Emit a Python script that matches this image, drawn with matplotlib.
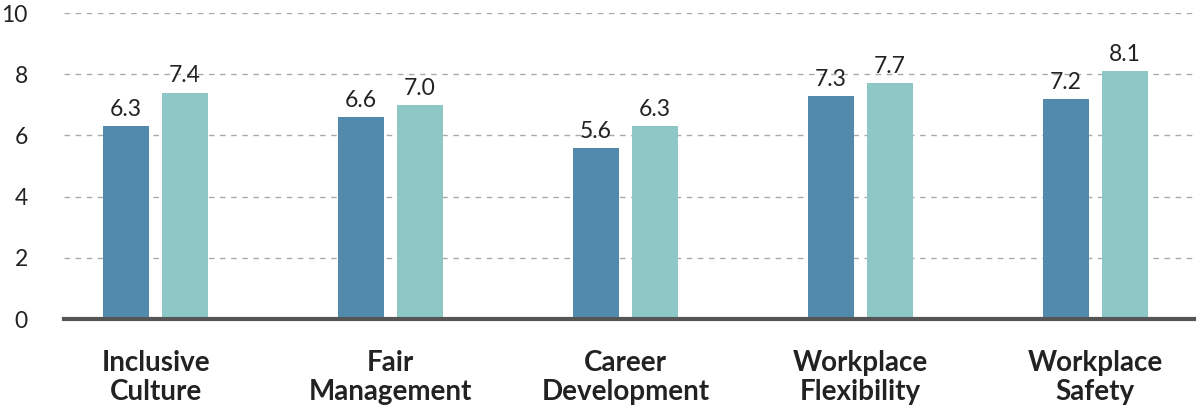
import matplotlib.pyplot as plt
import numpy as np

plt.rcParams['font.family'] = ['Lato', 'DejaVu Sans']

# Data
categories = ['Inclusive\nCulture', 'Fair\nManagement', 'Career\nDevelopment',
              'Workplace\nFlexibility', 'Workplace\nSafety']
series_a = [6.3, 6.6, 5.6, 7.3, 7.2]
series_b = [7.4, 7.0, 6.3, 7.7, 8.1]
y_ticks = [0, 2, 4, 6, 8, 10]

blue = '#528aae'
teal = '#8ec8c6'
text_color = '#222222'

fig = plt.figure(figsize=(11.97, 4.07), dpi=100)
ax = fig.add_axes([0.0535, 0.216, 0.944, 0.752])

x = np.arange(len(categories))
w = 0.196
off = 0.1255
bars_a = ax.bar(x - off, series_a, w, color=blue, zorder=3)
bars_b = ax.bar(x + off, series_b, w, color=teal, zorder=3)

for bars in (bars_a, bars_b):
    for b in bars:
        ax.text(b.get_x() + b.get_width() / 2, b.get_height() + 0.2,
                f'{b.get_height():.1f}', ha='center', va='bottom',
                fontsize=16.5, color=text_color)

ax.set_ylim(0, 10)
ax.set_xlim(-0.39, 4.42)
ax.set_yticks(y_ticks)
ax.set_yticklabels([str(t) for t in y_ticks], fontsize=16.5, color=text_color)
ax.set_xticks(x)
ax.set_xticklabels(categories, fontsize=20, fontweight='bold', color=text_color,
                   linespacing=1.17)
ax.tick_params(axis='y', length=0, pad=26)
ax.tick_params(axis='x', length=0, pad=22)
for lbl in ax.get_yticklabels():
    lbl.set_horizontalalignment('right')

ax.grid(axis='y', color='#aaaaaa', linestyle=(0, (4, 4)), linewidth=1, zorder=0)
for s in ['top', 'right', 'left']:
    ax.spines[s].set_visible(False)
ax.spines['bottom'].set_color('#555555')
ax.spines['bottom'].set_linewidth(3)
ax.spines['bottom'].set_zorder(4)

fig.savefig('out.png', dpi=100)
